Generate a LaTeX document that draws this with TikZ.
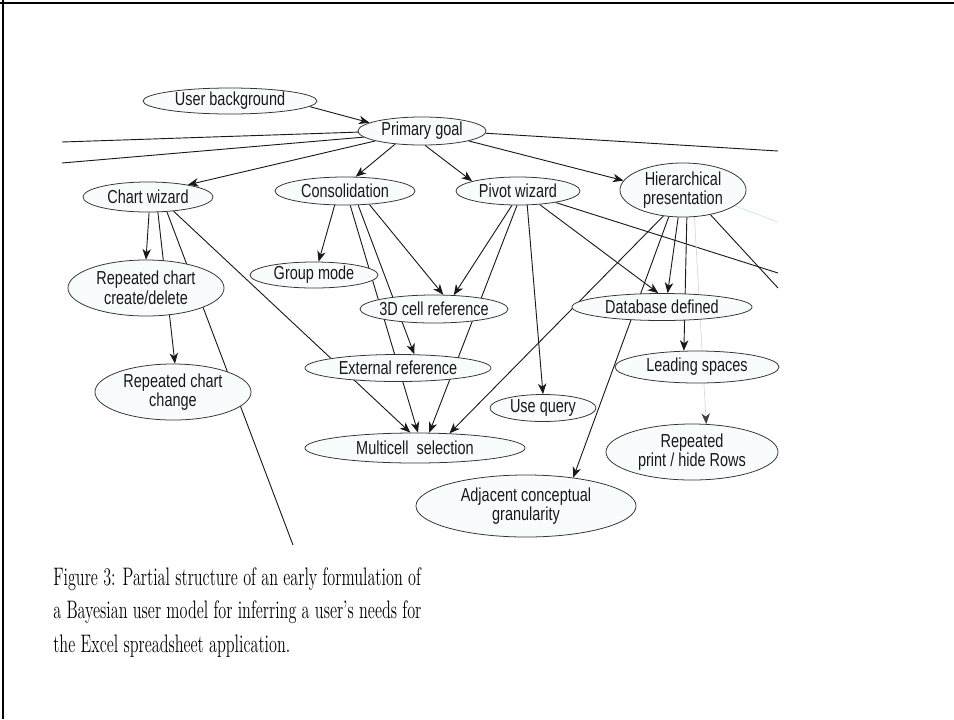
\documentclass[tikz,border=0pt]{standalone}
\usepackage{fontspec}
\newfontfamily\arialf{Liberation Sans}
\usetikzlibrary{shapes.geometric,arrows.meta}
\pgfdeclarelayer{bg}
\pgfsetlayers{bg,main}
\newcommand\vs[1]{\scalebox{1}[1.3]{#1}}
\newcommand\cs[1]{\scalebox{0.96}[1.5]{#1}}
\begin{document}
\begin{tikzpicture}[x=0.025cm,y=-0.025cm,
  bn/.style={ellipse,draw=black!80,line width=0.55pt,fill={rgb,255:red,249;green,252;blue,252},inner sep=0pt},
  lbl/.style={font=\arialf\fontsize{10.3}{14}\selectfont,align=center,text=black!90,inner sep=0pt},
  esz/.style 2 args={minimum width=#1*0.05cm,minimum height=#2*0.05cm},
  lnk/.style={line width=0.65pt,draw=black!90},
  arw/.style={lnk,-{Stealth[length=7.5pt,width=6pt,inset=2.2pt]}},
  faintarw/.style={line width=0.5pt,draw=black!15,-{Stealth[length=7.5pt,width=6pt,inset=2.2pt,color=black!75]}},
  faintln/.style={line width=0.5pt,draw={rgb,255:red,205;green,228;blue,232}},
  frame/.style={draw=black}
]
\useasboundingbox (0,0) rectangle (954,719);
\draw[frame,line width=1.9pt] (0,3) -- (954,3);
\draw[frame,line width=1.4pt] (3,0) -- (3,719);

\node[bn,esz={87}{13},label={[lbl]center:\vs{User background}}] (ub) at (230,101) {};
\node[bn,esz={64}{14},label={[lbl]center:\vs{Primary goal}}] (pg) at (422,131) {};
\node[bn,esz={65}{15},label={[lbl]center:\vs{Chart wizard}}] (cw) at (148,197) {};
\node[bn,esz={70}{14},label={[lbl]center:\vs{Consolidation}}] (con) at (345,191) {};
\node[bn,esz={62}{14},label={[lbl]center:\vs{Pivot wizard}}] (pw) at (518,191) {};
\node[bn,esz={63}{27},label={[lbl]center:{\vs{Hierarchical}\\\vs{presentation}}}] (hp) at (683,190) {};
\node[bn,esz={78}{28},label={[lbl]center:{\vs{Repeated chart}\\\vs{create/delete}}}] (rccd) at (146,288) {};
\node[bn,esz={64}{13},label={[lbl]center:\vs{Group mode}}] (gm) at (314,275) {};
\node[bn,esz={74}{14},label={[lbl]center:\vs{3D cell reference}}] (cr3) at (434,309) {};
\node[bn,esz={93}{13.5},label={[lbl]center:\vs{External reference}}] (er) at (398,368) {};
\node[bn,esz={78}{28},label={[lbl]center:{\vs{Repeated chart}\\\vs{change}}}] (rcc) at (173,392) {};
\node[bn,esz={110}{15},label={[lbl]center:\vs{Multicell\ \ selection}}] (ms) at (415,448) {};
\node[bn,esz={90}{13.5},label={[lbl]center:\vs{Database defined}}] (dd) at (662,307) {};
\node[bn,esz={82}{16},label={[lbl]center:\vs{Leading spaces}}] (ls) at (697,367) {};
\node[bn,esz={53}{13.5},label={[lbl]center:\vs{Use query}}] (uq) at (543,408) {};
\node[bn,esz={86}{28},label={[lbl]center:{\vs{Repeated}\\\vs{print / hide Rows}}}] (rp) at (692,452) {};
\node[bn,esz={110}{31},label={[lbl]center:{\vs{Adjacent conceptual}\\\vs{granularity}}}] (acg) at (526,506) {};

\coordinate (oL1) at (62,142);
\coordinate (oL2) at (62,163);
\coordinate (oR1) at (778,151);
\coordinate (oR2) at (778,273);
\coordinate (oR3) at (778,288);
\coordinate (oR4) at (778,222);
\coordinate (oB) at (293,545);

\begin{pgfonlayer}{bg}
\draw[arw] (ub.-4) -- (pg.171);
\draw[arw] (pg.192) -- (cw.17);
\draw[arw] (pg.206) -- (con.53);
\draw[arw] (pg.282) -- (pw.168);
\draw[arw] (pg.-12) -- (hp.171);
\draw[lnk] (pg.181) -- (oL1);
\draw[lnk] (pg.186) -- (oL2);
\draw[lnk] (pg.-2) -- (oR1);
\draw[arw] (cw.274) -- (rccd.90);
\draw[arw] (cw.303) -- (rcc.86);
\draw[lnk] (cw.322) -- (oB);
\draw[arw] (cw.331) -- (ms.107);
\draw[arw] (con.234) -- (gm.71);
\draw[arw] (con.290) -- (ms.79);
\draw[arw] (con.313) -- (er.40);
\draw[arw] (con.331) -- (cr3.57);
\draw[arw] (pw.247) -- (cr3.35);
\draw[arw] (pw.266) -- (ms.47);
\draw[arw] (pw.303) -- (uq.90);
\draw[arw] (pw.328) -- (dd.105);
\draw[lnk] (pw.343) -- (oR2);
\draw[arw] (hp.233) -- (ms.23);
\draw[arw] (hp.242) -- (acg.31);
\draw[arw] (hp.260) -- (dd.68);
\draw[arw] (hp.278) -- (ls.129);
\draw[faintarw] (hp.293) -- (rp.63);
\draw[lnk] (hp.318) -- (oR3);
\draw[faintln] (hp.343) -- (oR4);
\end{pgfonlayer}

\node[anchor=north west,align=left,inner sep=0pt,font=\fontsize{12}{23.8}\selectfont] (cap) at (53,567)
  {\cs{Figure 3: Partial structure of an early formulation of}\\\cs{a Bayesian user model for inferring a user's needs for}\\\cs{the Excel spreadsheet application.}};
\end{tikzpicture}
\end{document}
